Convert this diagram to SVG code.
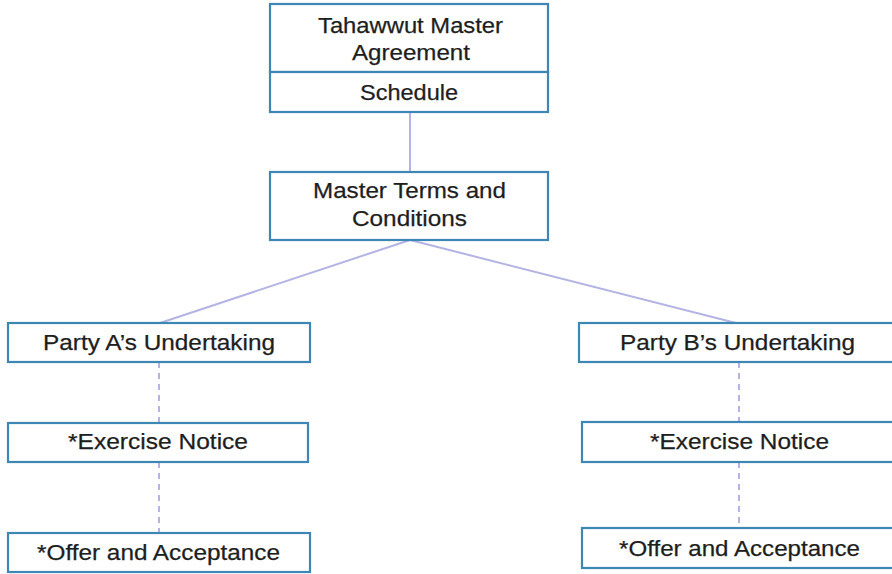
<svg xmlns="http://www.w3.org/2000/svg" width="892" height="574" viewBox="0 0 892 574">
<style>
.box{fill:#ffffff;stroke:#3d87b4;stroke-width:2.2}
.t{font-family:"Liberation Sans",Arial,sans-serif;font-size:22px;fill:#1e1e1e;text-anchor:middle;stroke:#1e1e1e;stroke-width:0.25}
.c{stroke:#b4b4e4;stroke-width:2;fill:none}
.d{stroke:#b4b4e4;stroke-width:2;fill:none;stroke-dasharray:6,5}
</style>
<rect width="892" height="574" fill="#ffffff"/>
<g id="connectors">
<line class="c" x1="410" y1="112" x2="410" y2="172"/>
<line class="c" x1="410" y1="240" x2="160" y2="323"/>
<line class="c" x1="410" y1="240" x2="736" y2="323"/>
<line class="d" x1="159" y1="362" x2="159" y2="423"/>
<line class="d" x1="159" y1="462" x2="159" y2="533"/>
<line class="d" x1="739" y1="362" x2="739" y2="422"/>
<line class="d" x1="739" y1="462" x2="739" y2="528"/>
</g>
<g id="master-agreement">
<rect class="box" x="270" y="4" width="278" height="68"/>
<text class="t" x="410.5" y="33" textLength="185" lengthAdjust="spacingAndGlyphs">Tahawwut Master</text>
<text class="t" x="411" y="60" textLength="118" lengthAdjust="spacingAndGlyphs">Agreement</text>
</g>
<g id="schedule">
<rect class="box" x="270" y="72" width="278" height="40"/>
<text class="t" x="409" y="100" textLength="98" lengthAdjust="spacingAndGlyphs">Schedule</text>
</g>
<g id="master-terms">
<rect class="box" x="270" y="172" width="278" height="68"/>
<text class="t" x="409.5" y="198" textLength="193" lengthAdjust="spacingAndGlyphs">Master Terms and</text>
<text class="t" x="409.5" y="226" textLength="115" lengthAdjust="spacingAndGlyphs">Conditions</text>
</g>
<g id="party-a">
<rect class="box" x="8" y="323" width="302" height="39"/>
<text class="t" x="159" y="350" textLength="232" lengthAdjust="spacingAndGlyphs">Party A’s Undertaking</text>
</g>
<g id="exercise-a">
<rect class="box" x="8" y="423" width="300" height="39"/>
<text class="t" x="158" y="449" textLength="180" lengthAdjust="spacingAndGlyphs">*Exercise Notice</text>
</g>
<g id="offer-a">
<rect class="box" x="8" y="533" width="302" height="39"/>
<text class="t" x="158.5" y="560" textLength="243" lengthAdjust="spacingAndGlyphs">*Offer and Acceptance</text>
</g>
<g id="party-b">
<rect class="box" x="579" y="323" width="318" height="39"/>
<text class="t" x="737.5" y="350" textLength="235" lengthAdjust="spacingAndGlyphs">Party B’s Undertaking</text>
</g>
<g id="exercise-b">
<rect class="box" x="582" y="422" width="315" height="40"/>
<text class="t" x="739.5" y="449" textLength="179" lengthAdjust="spacingAndGlyphs">*Exercise Notice</text>
</g>
<g id="offer-b">
<rect class="box" x="582" y="528" width="315" height="40"/>
<text class="t" x="739.5" y="556" textLength="241" lengthAdjust="spacingAndGlyphs">*Offer and Acceptance</text>
</g>
</svg>
